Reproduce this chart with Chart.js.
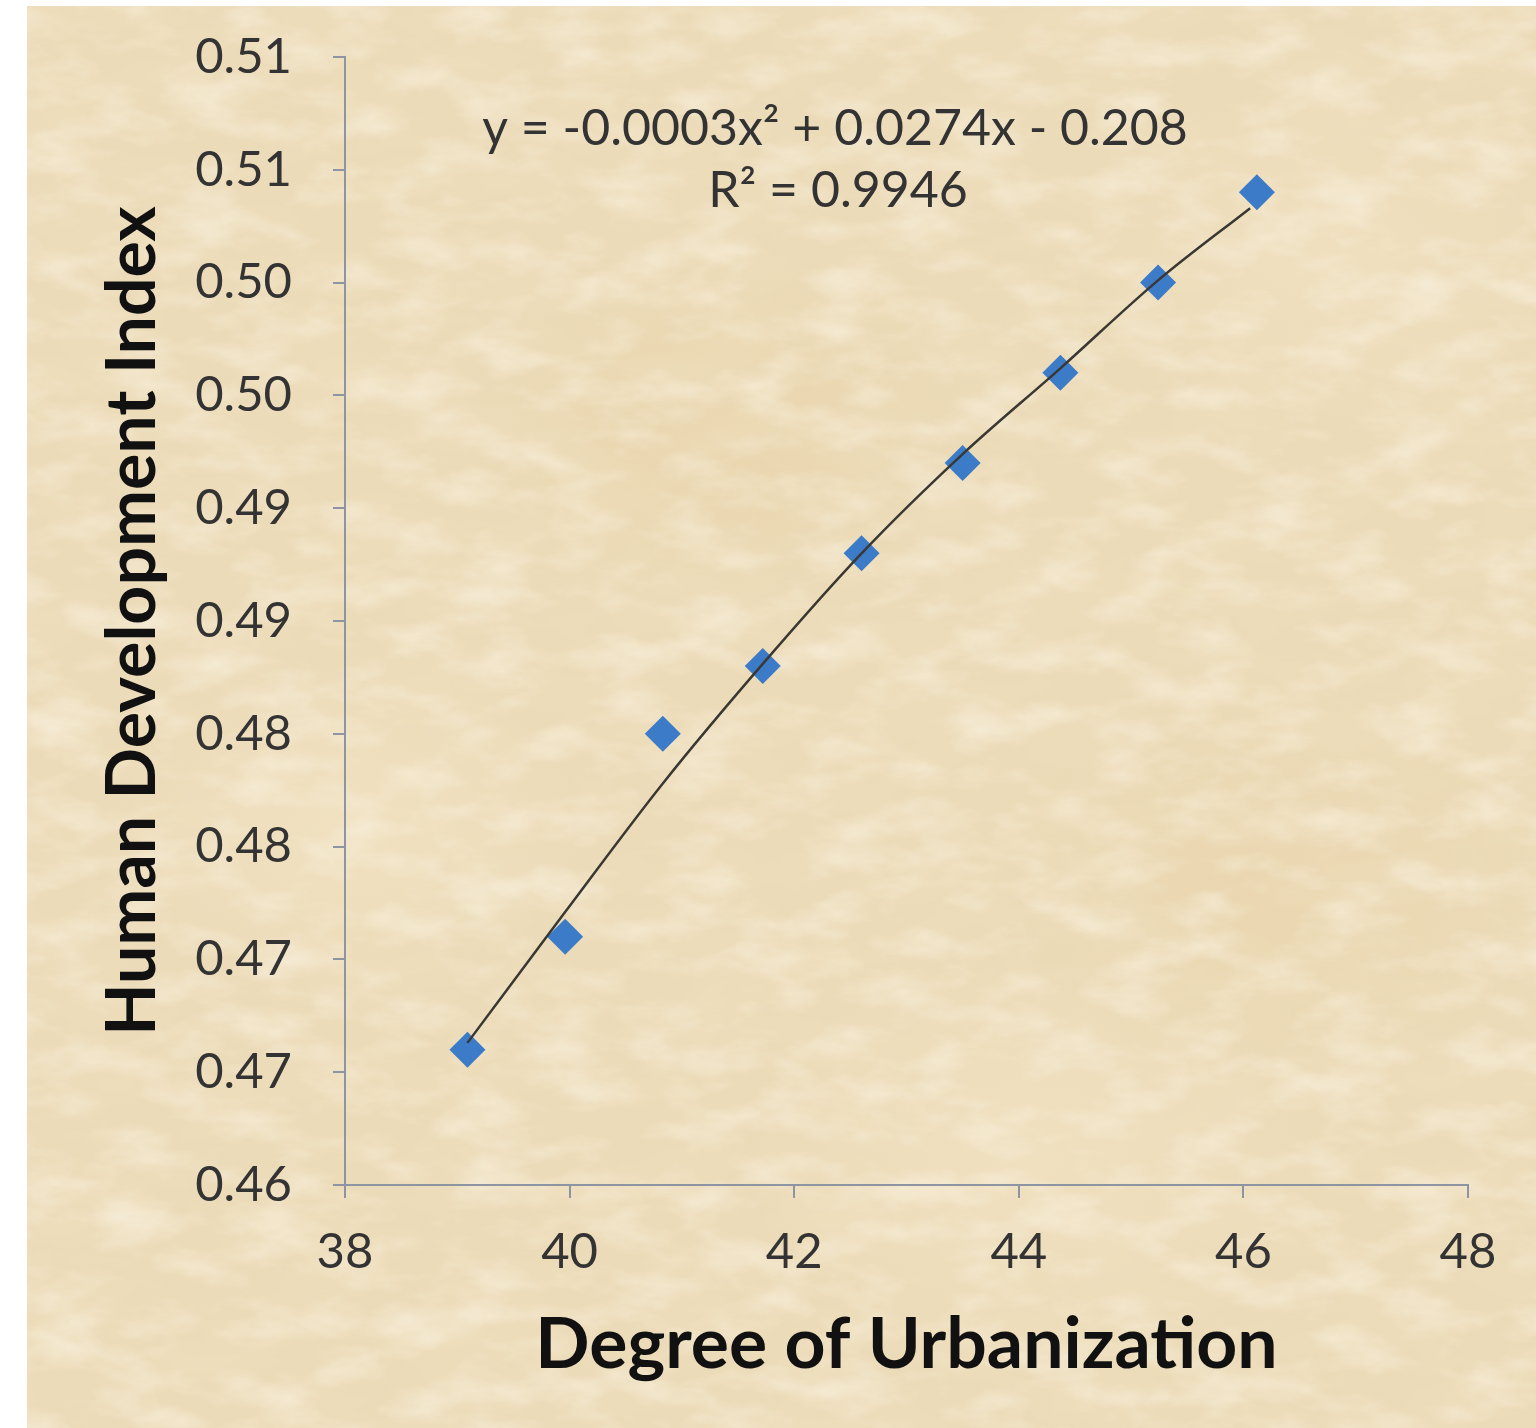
<!DOCTYPE html>
<html>
<head>
<meta charset="utf-8">
<script src="https://cdn.jsdelivr.net/npm/chart.js@4"></script>
<style>
  html, body { margin: 0; padding: 0; background: #fff; }
  body { width: 1536px; height: 1428px; position: relative; overflow: hidden; }
  #paper {
    position: absolute; left: 27px; top: 6px; right: 0; bottom: 0;
    background:
      url("data:image/svg+xml;utf8,<svg xmlns='http://www.w3.org/2000/svg' width='1509' height='1422'><filter id='a'><feTurbulence type='fractalNoise' baseFrequency='0.008 0.02' numOctaves='5' seed='7'/><feColorMatrix values='0 0 0 0 0.86 0 0 0 0 0.74 0 0 0 0 0.52 1.2 0 0 0 -0.5'/></filter><filter id='b'><feTurbulence type='fractalNoise' baseFrequency='0.014 0.03' numOctaves='5' seed='21'/><feColorMatrix values='0 0 0 0 0.97 0 0 0 0 0.93 0 0 0 0 0.83 1.1 0 0 0 -0.48'/></filter><rect width='100%' height='100%' filter='url(%23a)'/><rect width='100%' height='100%' filter='url(%23b)'/></svg>"),
      radial-gradient(ellipse 260px 180px at 700px 420px, rgba(226,196,140,0.22), transparent),
      radial-gradient(ellipse 300px 200px at 1250px 880px, rgba(228,198,146,0.20), transparent),
      radial-gradient(ellipse 240px 160px at 320px 820px, rgba(246,234,206,0.40), transparent),
      radial-gradient(ellipse 280px 200px at 1000px 1150px, rgba(246,234,206,0.35), transparent),
      radial-gradient(ellipse 260px 170px at 1300px 250px, rgba(246,232,204,0.35), transparent),
      #ecdbb8;
  }
  #chart { position: absolute; left: 0; top: 0; }
</style>
</head>
<body>
<div id="paper"></div>
<canvas id="chart" width="1536" height="1428"></canvas>
<script>
// observed points
const urbanization = [39.09, 39.96, 40.83, 41.72, 42.60, 43.50, 44.37, 45.24, 46.12];
const hdi = [0.466, 0.471, 0.480, 0.483, 0.488, 0.492, 0.496, 0.500, 0.504];

// polynomial trendline
const trendX = [39.09, 39.96, 40.83, 41.72, 42.60, 43.50, 44.37, 45.24, 46.06];
const trendY = [0.4663, 0.4721, 0.4778, 0.4831, 0.4880, 0.4924, 0.4962, 0.5001, 0.5033];

const xTicks = [38, 40, 42, 44, 46, 48];
const yTickLabels = ['0.46', '0.47', '0.47', '0.48', '0.48', '0.49', '0.49', '0.50', '0.50', '0.51', '0.51'];

const equationLines = ['y = -0.0003x\u00b2 + 0.0274x - 0.208', 'R\u00b2 = 0.9946'];

const axisColor = '#8d95a2';
const tickFont = { family: 'Lato', size: 49 };

const equationLabel = {
    id: 'equationLabel',
    afterDraw(chart) {
        const ctx = chart.ctx;
        ctx.save();
        ctx.font = '50px Lato';
        ctx.fillStyle = '#333';
        ctx.textAlign = 'center';
        ctx.textBaseline = 'middle';
        ctx.fillText(equationLines[0], 835, 129);
        ctx.fillText(equationLines[1], 838, 191);
        ctx.restore();
    }
};

new Chart(document.getElementById('chart'), {
    type: 'scatter',
    data: {
        datasets: [
            {
                label: 'Poly. trend',
                data: trendX.map((x, i) => ({ x: x, y: trendY[i] })),
                showLine: true,
                borderColor: '#3a3833',
                borderWidth: 2.5,
                pointRadius: 0,
                tension: 0.4,
                cubicInterpolationMode: 'monotone',
                order: 0
            },
            {
                label: 'HDI',
                data: urbanization.map((x, i) => ({ x: x, y: hdi[i] })),
                pointStyle: 'rectRot',
                pointRadius: 18,
                backgroundColor: '#3b7bc8',
                borderColor: '#3b7bc8',
                borderWidth: 0,
                order: 1
            }
        ]
    },
    options: {
        responsive: false,
        animation: false,
        layout: { padding: { top: 57, right: 68, bottom: 0, left: 0 } },
        plugins: {
            legend: { display: false },
            tooltip: { enabled: false }
        },
        scales: {
            x: {
                type: 'linear',
                min: 38,
                max: 48,
                afterBuildTicks: scale => {
                    scale.ticks = xTicks.map(v => ({ value: v }));
                },
                afterFit: scale => { scale.height = 243; },
                ticks: { color: '#333', font: tickFont, padding: 25, maxRotation: 0 },
                grid: { drawOnChartArea: false, tickLength: 13, color: axisColor, lineWidth: 2 },
                border: { color: axisColor, width: 2 },
                title: {
                    display: true,
                    text: 'Degree of Urbanization',
                    color: '#111',
                    font: { family: 'Lato', size: 71.5, weight: 'bold' },
                    padding: { top: 0, bottom: 40 }
                }
            },
            y: {
                min: 0.46,
                max: 0.51,
                afterFit: scale => {
                    scale.width = 345;
                    scale.paddingTop = 0;
                },
                ticks: {
                    stepSize: 0.005,
                    color: '#333',
                    font: tickFont,
                    padding: 41,
                    callback: (value, index) => yTickLabels[index]
                },
                grid: { drawOnChartArea: false, tickLength: 12, color: axisColor, lineWidth: 2 },
                border: { color: axisColor, width: 2 },
                title: {
                    display: true,
                    text: 'Human Development Index',
                    color: '#111',
                    font: { family: 'Lato', size: 68, weight: 'bold' },
                    padding: { top: 92, bottom: 0 }
                }
            }
        }
    },
    plugins: [equationLabel]
});
</script>
</body>
</html>
